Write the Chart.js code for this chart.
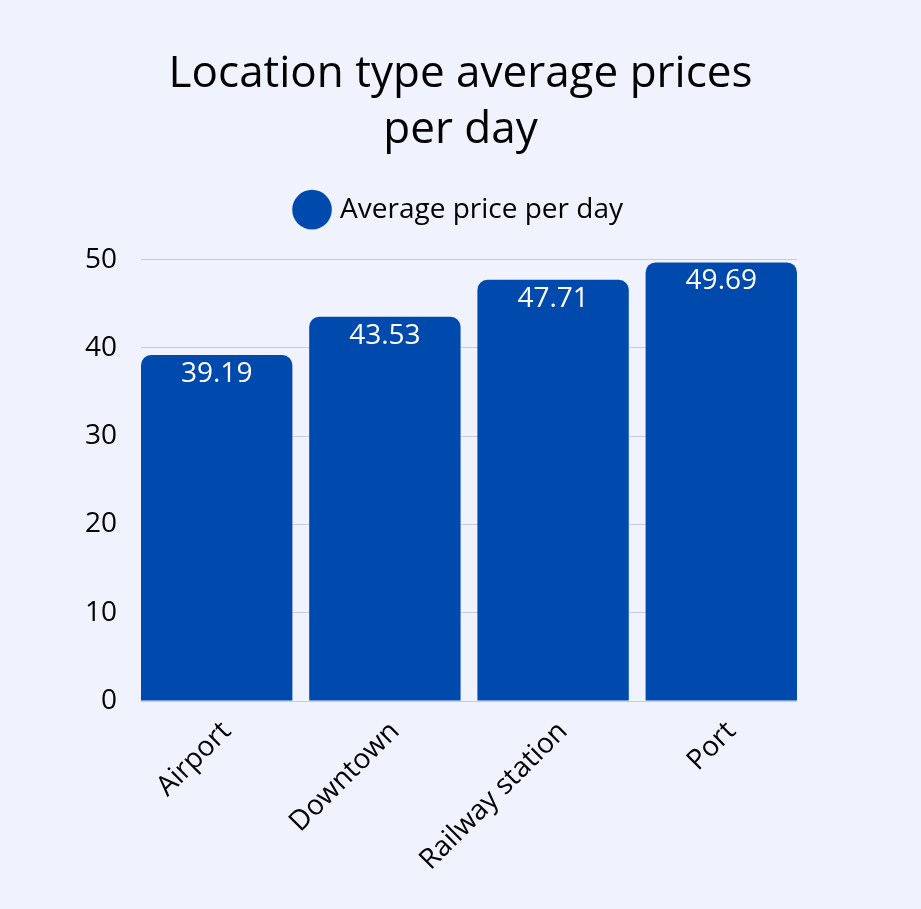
<!DOCTYPE html>
<html>
<head>
<meta charset="utf-8">
<script src="https://cdn.jsdelivr.net/npm/chart.js@4"></script>
<style>
  html, body { margin: 0; padding: 0; background: #f0f3fe; }
  #wrap { width: 921px; height: 909px; }
</style>
</head>
<body>
<div id="wrap"><canvas id="myChart"></canvas></div>
<script>
const categories = ['Airport', 'Downtown', 'Railway station', 'Port']
const prices = [39.19, 43.53, 47.71, 49.69]
const yTicks = [0, 10, 20, 30, 40, 50]

const FONT = "'Open Sans', sans-serif"
const BAR_PCT = 0.9

// draws the value inside each bar, near the top
const valueLabels = {
    id: 'valueLabels',
    afterDatasetsDraw(chart) {
        const ctx = chart.ctx
        const meta = chart.getDatasetMeta(0)
        ctx.save()
        ctx.fillStyle = '#ffffff'
        ctx.font = `28px ${FONT}`
        ctx.textAlign = 'center'
        ctx.textBaseline = 'top'
        meta.data.forEach((bar, i) => {
            ctx.fillText(prices[i].toFixed(2), bar.x, bar.y + 5)
        })
        ctx.restore()
    }
}

// extra room between the legend and the plot
const legendGap = {
    id: 'legendGap',
    beforeInit(chart) {
        const fit = chart.legend.fit
        chart.legend.fit = function () {
            fit.call(chart.legend)
            this.height += 26
        }
    }
}

const canvas = document.getElementById('myChart')
const myChart = new Chart(canvas, {
    type: 'bar',
    data: {
        datasets: [{
            label: 'Average price per day',
            data: prices.map((v, i) => ({ x: i, y: v })),
            backgroundColor: '#004aad',
            borderRadius: { topLeft: 10, topRight: 10 },
            borderSkipped: 'bottom',
            barPercentage: BAR_PCT,
            categoryPercentage: 1
        }]
    },
    options: {
        responsive: true,
        maintainAspectRatio: false,
        animation: false,
        layout: { padding: { left: 124, right: 124, top: 36, bottom: 0 } },
        plugins: {
            title: {
                display: true,
                text: ['Location type average prices', 'per day'],
                color: '#000',
                font: { family: FONT, size: 44, weight: 'normal', lineHeight: 1.28 },
                padding: { top: 10, bottom: 2 }
            },
            legend: {
                labels: {
                    usePointStyle: true,
                    pointStyle: 'circle',
                    boxWidth: 28,
                    boxHeight: 28,
                    color: '#000',
                    font: { family: FONT, size: 28 },
                    padding: 35
                }
            },
            tooltip: { enabled: false }
        },
        scales: {
            x: {
                type: 'linear',
                offset: false,
                min: -BAR_PCT / 2,
                max: categories.length - 1 + BAR_PCT / 2,
                grid: { display: false },
                border: { display: false },
                afterBuildTicks: (axis) => { axis.ticks = categories.map((c, i) => ({ value: i })) },
                afterFit: (axis) => {
                    axis.height = 208
                    axis.paddingLeft = 0
                    axis.paddingRight = 0
                },
                ticks: {
                    color: '#000',
                    font: { family: FONT, size: 28 },
                    maxRotation: 45,
                    minRotation: 45,
                    labelOffset: 10,
                    padding: 6,
                    callback: (v) => categories[v]
                }
            },
            y: {
                min: 0,
                max: 50,
                afterBuildTicks: (axis) => { axis.ticks = yTicks.map(v => ({ value: v })) },
                afterFit: (axis) => { axis.width = 17 },
                grid: { color: '#c9ccd6', drawTicks: false },
                border: { display: false },
                ticks: {
                    color: '#000',
                    font: { family: FONT, size: 28 },
                    mirror: true,
                    crossAlign: 'far',
                    padding: -56
                }
            }
        }
    },
    plugins: [valueLabels, legendGap]
})
</script>
</body>
</html>
